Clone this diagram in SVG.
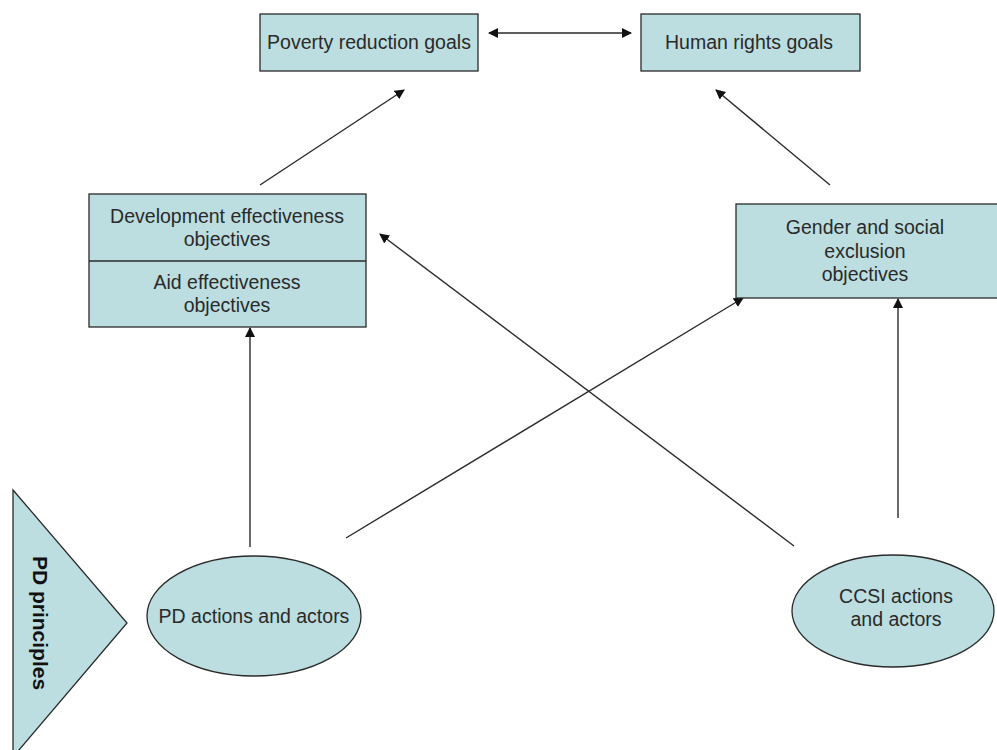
<svg xmlns="http://www.w3.org/2000/svg" width="997" height="750" viewBox="0 0 997 750">
<defs>
<style>
.box{fill:#BCDEE0;stroke:#2a2a2a;stroke-width:1.3}
.t{font-family:"Liberation Sans",Arial,sans-serif;font-size:19.5px;fill:#2a2a2a;text-anchor:middle}
.c{stroke:#2a2a2a;stroke-width:1.4;fill:none}
</style>
<marker id="ah" viewBox="0 0 10 10" refX="9" refY="5" markerWidth="10" markerHeight="10" markerUnits="userSpaceOnUse" orient="auto-start-reverse">
<path d="M0,0 L10,5 L0,10 Z" fill="#111"/>
</marker>
</defs>
<rect width="997" height="750" fill="#fff"/>
<g id="connectors">
<line class="c" x1="489" y1="33" x2="631" y2="33" marker-start="url(#ah)" marker-end="url(#ah)"/>
<line class="c" x1="260" y1="185" x2="404" y2="90" marker-end="url(#ah)"/>
<line class="c" x1="830" y1="185" x2="716" y2="90" marker-end="url(#ah)"/>
<line class="c" x1="250" y1="547" x2="250" y2="328" marker-end="url(#ah)"/>
<line class="c" x1="346" y1="538" x2="743" y2="298" marker-end="url(#ah)"/>
<line class="c" x1="794" y1="546" x2="380" y2="234" marker-end="url(#ah)"/>
<line class="c" x1="898" y1="518" x2="898" y2="299" marker-end="url(#ah)"/>
</g>
<g id="poverty">
<rect class="box" x="260" y="14" width="218" height="57"/>
<text class="t" x="369" y="49">Poverty reduction goals</text>
</g>
<g id="human-rights">
<rect class="box" x="641" y="14" width="219" height="57"/>
<text class="t" x="749" y="49">Human rights goals</text>
</g>
<g id="development">
<rect class="box" x="89" y="194" width="277" height="133"/>
<line x1="89" y1="261" x2="366" y2="261" stroke="#2a2a2a" stroke-width="1.3"/>
<text class="t" x="227" y="223">Development effectiveness</text>
<text class="t" x="227" y="246">objectives</text>
<text class="t" x="227" y="289">Aid effectiveness</text>
<text class="t" x="227" y="312">objectives</text>
</g>
<g id="gender">
<rect class="box" x="736" y="204" width="270" height="94"/>
<text class="t" x="865" y="234">Gender and social</text>
<text class="t" x="865" y="258">exclusion</text>
<text class="t" x="865" y="281">objectives</text>
</g>
<g id="pd-principles">
<polygon class="box" points="13,490 127,623 13,757"/>
<text transform="translate(33,623) rotate(90)" font-family="Liberation Sans,Arial,sans-serif" font-size="21" font-weight="bold" fill="#111" text-anchor="middle">PD principles</text>
</g>
<g id="pd-actions">
<ellipse class="box" cx="254" cy="616" rx="107" ry="60"/>
<text class="t" x="254" y="623">PD actions and actors</text>
</g>
<g id="ccsi-actions">
<ellipse class="box" cx="893" cy="611" rx="101" ry="56"/>
<text class="t" x="896" y="603">CCSI actions</text>
<text class="t" x="896" y="626">and actors</text>
</g>
</svg>
